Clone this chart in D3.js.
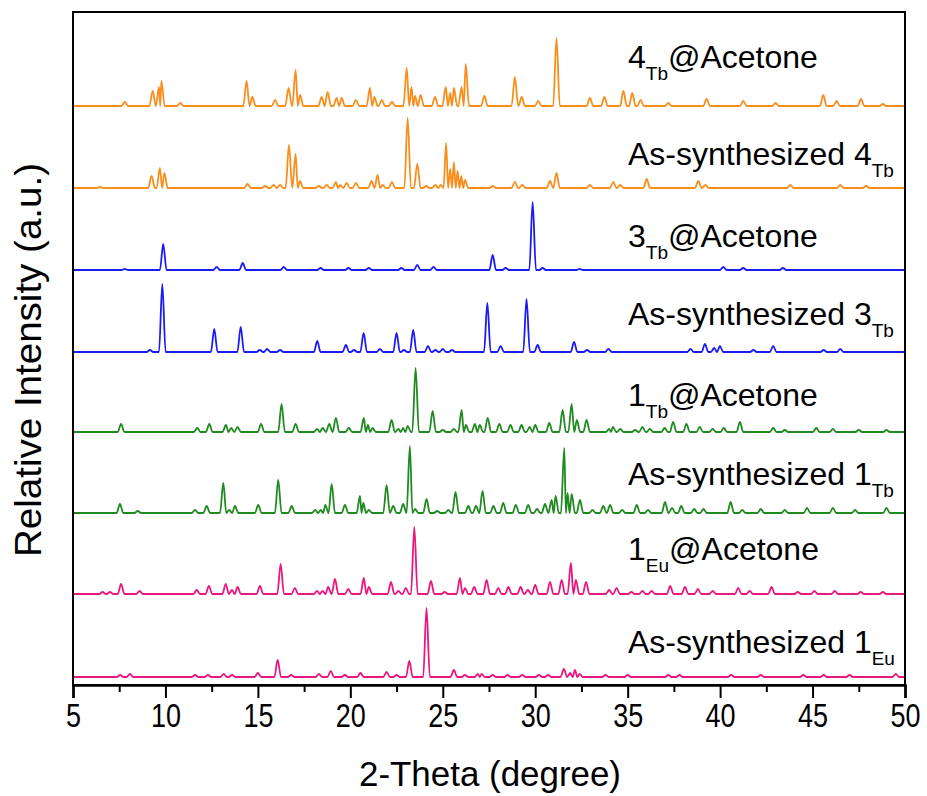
<!DOCTYPE html>
<html>
<head>
<meta charset="utf-8">
<script src="https://cdn.jsdelivr.net/npm/d3@7"></script>
<style>
  body { margin: 0; background: #fff; }
  text { font-family: "Liberation Sans", Arial, sans-serif; fill: #000; }
</style>
</head>
<body>
<script>
var w = 927,
    h = 796;

// peaks: [2-theta, intensity (a.u.)]
var as1Eu = [[7.55,2],[8.08,3],[11.6,2],[12.3,2],[13.15,3],[13.6,2],[15.0,4],[16.07,17],[16.8,2],[18.3,3],[18.94,6],[19.7,2],[20.55,4],[21.96,5],[22.5,2],[23.19,16],[24.12,69],[25.6,7],[26.2,2],[26.9,3],[27.1,3],[27.7,2],[28.5,2],[29.3,2],[30.2,2],[30.7,2],[31.55,8],[31.9,4],[32.15,7],[32.4,3],[33.8,2],[35.0,2],[37.2,2],[37.8,2],[40.6,2],[42.2,2],[44.5,2],[45.6,2],[47.0,2],[49.5,3]];
var ac1Eu = [[6.6,2],[7.0,2],[7.6,10],[8.6,3],[11.69,4],[12.35,8],[13.26,10],[13.6,4],[13.9,7],[15.11,8],[16.23,30],[17.0,6],[18.2,3],[18.5,3],[18.8,7],[19.17,15],[19.89,5],[20.73,16],[21.0,7],[22.2,12],[22.6,3],[23.0,6],[23.46,67],[24.36,13],[25.1,2],[25.93,16],[26.2,6],[26.7,7],[27.37,14],[28.0,6],[28.55,7],[29.21,7],[29.6,4],[30.0,9],[30.8,12],[31.43,14],[31.93,31],[32.2,14],[32.75,12],[34.0,4],[34.4,6],[35.2,2],[35.8,3],[36.3,3],[37.3,8],[38.1,7],[38.8,5],[39.6,3],[40.98,6],[41.6,3],[42.78,7],[44.2,2],[45.1,3],[46.2,3],[47.6,2],[48.8,2]];
var as1Tb = [[7.54,9],[8.5,2],[11.6,3],[12.23,7],[13.13,30],[13.45,3],[13.76,7],[15.02,8],[16.1,33],[16.83,7],[18.1,3],[18.4,3],[18.65,8],[18.99,29],[19.71,8],[20.52,17],[20.7,10],[21.0,3],[21.96,28],[22.32,7],[22.86,9],[23.22,67],[23.5,4],[24.12,14],[24.7,2],[25.3,3],[25.69,21],[26.38,7],[26.8,7],[27.15,22],[27.74,7],[28.27,10],[28.95,8],[29.62,8],[30.1,4],[30.53,9],[30.89,13],[31.1,17],[31.57,65],[31.75,20],[31.97,19],[32.42,13],[33.1,3],[33.68,7],[34.05,8],[34.7,3],[35.49,8],[36.1,3],[37.02,11],[37.4,5],[37.9,7],[38.6,4],[39.1,4],[40.57,11],[41.2,3],[42.2,4],[43.5,3],[44.7,5],[46.1,5],[47.3,3],[49.0,5]];
var ac1Tb = [[7.6,8],[11.72,4],[12.37,8],[13.27,7],[13.55,4],[13.9,5],[15.17,8],[16.28,28],[17.04,8],[18.2,3],[18.5,4],[18.86,8],[19.22,14],[19.92,4],[20.73,14],[20.95,7],[21.2,4],[22.23,12],[22.6,3],[22.85,4],[23.1,6],[23.53,64],[24.45,21],[25.0,2],[25.6,3],[26.02,22],[26.25,7],[26.74,8],[27.0,7],[27.43,14],[28.06,8],[28.66,7],[29.26,7],[29.7,5],[30.0,7],[30.76,9],[31.48,22],[31.97,28],[32.25,12],[32.78,12],[34.0,3],[34.2,5],[34.6,3],[35.4,2],[35.8,5],[36.2,3],[37.0,4],[37.46,10],[38.18,8],[38.9,5],[39.6,3],[40.2,4],[41.07,10],[42.87,4],[43.5,2],[45.2,4],[46.1,3],[47.5,2],[49.0,2]];
var as3Tb = [[9.16,2],[9.83,68],[12.64,23],[14.07,25],[15.1,2],[15.5,3],[16.2,2],[18.21,11],[19.76,7],[20.2,2],[20.72,19],[21.6,3],[22.5,19],[22.9,2],[23.4,22],[24.2,6],[24.6,2],[25.0,3],[25.5,2],[27.41,49],[28.13,6],[29.53,53],[30.13,7],[32.1,10],[32.8,2],[33.96,3],[38.4,3],[39.18,8],[39.68,4],[39.99,6],[41.8,2],[42.87,6],[45.6,2],[46.5,3]];
var ac3Tb = [[7.8,1],[9.88,26],[12.77,3],[14.18,7],[16.4,3],[18.39,2],[19.9,2],[21.0,2],[22.76,2],[23.62,5],[24.5,3],[27.7,15],[28.4,2],[29.86,68],[30.4,2],[32.4,1],[40.17,3],[41.25,2],[43.4,2]];
var as4Tb = [[6.46,1],[9.25,12],[9.70,20],[9.94,15],[14.44,4],[15.4,2],[15.85,3],[16.2,3],[16.68,43],[17.04,34],[17.27,7],[18.3,2],[18.72,3],[19.22,6],[19.45,3],[19.8,5],[20.3,5],[21.15,7],[21.47,13],[21.75,3],[22.25,6],[23.10,70],[23.62,24],[24.1,2],[24.6,3],[24.9,3],[25.18,45],[25.4,19],[25.6,26],[25.8,17],[26.0,12],[26.2,8],[27.7,2],[28.9,6],[29.3,3],[30.8,7],[31.15,15],[32.96,3],[34.22,6],[34.6,3],[36.03,9],[38.82,7],[39.2,3],[43.8,3],[46.5,3],[47.9,2]];
var ac4Tb = [[7.8,4],[9.31,15],[9.65,19],[9.78,25],[10.8,3],[14.39,25],[14.7,9],[15.93,6],[16.66,18],[17.04,36],[17.28,11],[18.45,9],[18.77,14],[19.26,8],[19.53,8],[20.3,6],[21.06,18],[21.3,9],[21.7,6],[22.25,4],[23.05,38],[23.31,19],[23.5,10],[23.8,11],[24.58,9],[25.16,19],[25.4,13],[25.6,18],[26.02,19],[26.24,42],[27.25,10],[28.9,29],[29.27,9],[30.16,5],[31.15,68],[32.96,8],[33.74,9],[34.77,15],[35.25,13],[35.7,6],[37.2,3],[39.27,7],[41.25,5],[43.0,3],[45.58,11],[46.3,5],[47.62,7],[48.8,2]];

// top to bottom
var series = [ac4Tb, as4Tb, ac3Tb, as3Tb, ac1Tb, as1Tb, ac1Eu, as1Eu];
var offsets = [579, 497, 415, 333, 253, 172, 91, 8];
var labelPre = ["4", "As-synthesized 4", "3", "As-synthesized 3", "1", "As-synthesized 1", "1", "As-synthesized 1"];
var labelSub = ["Tb", "Tb", "Tb", "Tb", "Tb", "Tb", "Eu", "Eu"];
var labelPost = ["@Acetone", "", "@Acetone", "", "@Acetone", "", "@Acetone", ""];
var color = ["#F98E1D", "#F98E1D", "#1A1AF5", "#1A1AF5", "#1F8A1F", "#1F8A1F", "#E8187F", "#E8187F"];

var majorTicks = [5, 10, 15, 20, 25, 30, 35, 40, 45, 50];
var minorTicks = [7.5, 12.5, 17.5, 22.5, 27.5, 32.5, 37.5, 42.5, 47.5];

var labelY = [68, 165, 247, 325, 406, 485, 560, 653];

var svg = d3.select("body").append("svg")
  .attr("width", w)
  .attr("height", h);

var x = d3.scaleLinear().domain([5, 50]).range([73, 905]);
var y = d3.scaleLinear().domain([0, 673]).range([685, 12]);

// peak list -> polyline vertices (foot, apex, foot)
function vertices(peaks) {
  var hw = 0.18;
  var pts = [[5, 0]];
  peaks.forEach(function(p, i) {
    var prev = i > 0 ? peaks[i - 1][0] : -1e9;
    var next = i < peaks.length - 1 ? peaks[i + 1][0] : 1e9;
    var left = Math.max(p[0] - hw, (prev + p[0]) / 2);
    var right = Math.min(p[0] + hw, (p[0] + next) / 2);
    if (left > pts[pts.length - 1][0]) pts.push([left, 0]);
    pts.push([p[0], p[1]]);
    pts.push([right, 0]);
  });
  pts.push([50, 0]);
  return pts;
}

series.forEach(function(s, i) {
  var line = d3.line()
    .x(function(d) { return x(d[0]); })
    .y(function(d) { return y(d[1] + offsets[i]); })
    .curve(d3.curveMonotoneX);
  svg.append("path")
    .datum(vertices(s))
    .attr("d", line)
    .attr("fill", "none")
    .attr("stroke", color[i])
    .attr("stroke-width", 1.8)
    .attr("stroke-linejoin", "round");
});

// frame
svg.append("rect")
  .attr("x", 73).attr("y", 12)
  .attr("width", 832).attr("height", 673)
  .attr("fill", "none")
  .attr("stroke", "#000")
  .attr("stroke-width", 2);

var axis = svg.append("g").attr("transform", "translate(0,685)");
axis.call(d3.axisBottom(x).tickValues(majorTicks).tickSize(13).tickPadding(5).tickFormat(d3.format("d")));
axis.select(".domain").attr("stroke-width", 2.5);
axis.selectAll(".tick line").attr("stroke-width", 2);
axis.selectAll(".tick text")
  .style("font-size", "34px")
  .attr("textLength", function(d) { return String(d).length * 15; })
  .attr("lengthAdjust", "spacingAndGlyphs");

var minor = svg.append("g").attr("transform", "translate(0,685)");
minor.call(d3.axisBottom(x).tickValues(minorTicks).tickSize(7).tickFormat(""));
minor.select(".domain").remove();
minor.selectAll(".tick line").attr("stroke-width", 2);

svg.append("text")
  .attr("x", 490).attr("y", 786)
  .attr("text-anchor", "middle")
  .style("font-size", "35px")
  .attr("textLength", 262)
  .attr("lengthAdjust", "spacingAndGlyphs")
  .text("2-Theta (degree)");

svg.append("text")
  .attr("transform", "translate(41,360) rotate(-90)")
  .attr("text-anchor", "middle")
  .style("font-size", "36px")
  .attr("textLength", 394)
  .attr("lengthAdjust", "spacingAndGlyphs")
  .text("Relative Intensity (a.u.)");

// trace labels
labelPre.forEach(function(t, i) {
  var txt = svg.append("text")
    .attr("x", 628).attr("y", labelY[i])
    .style("font-size", "32px");
  txt.append("tspan").text(t);
  txt.append("tspan").attr("dy", 12).style("font-size", "19px").text(labelSub[i]);
  if (labelPost[i]) txt.append("tspan").attr("dy", -12).text(labelPost[i]);
});
</script>
</body>
</html>
